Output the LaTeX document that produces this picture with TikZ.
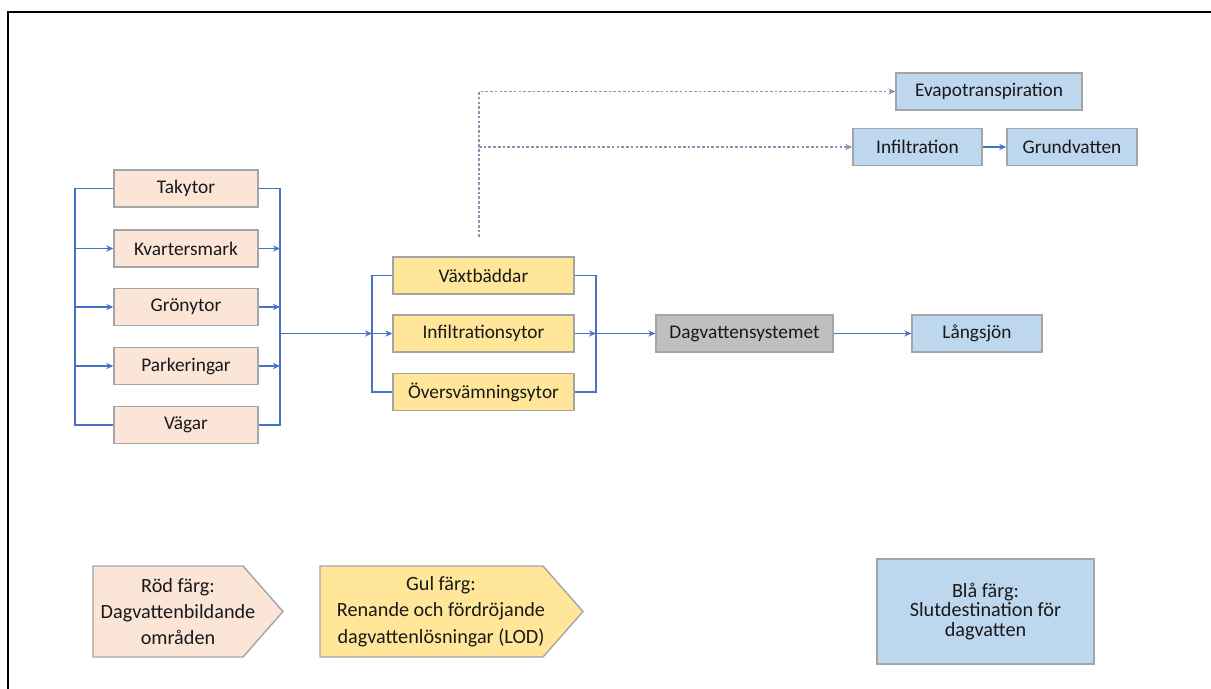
\documentclass[tikz,border=0pt]{standalone}
\usepackage{fontspec}
\setmainfont{Carlito}
\usetikzlibrary{arrows.meta}

\definecolor{redfill}{HTML}{FBE5D6}
\definecolor{ylwfill}{HTML}{FFE699}
\definecolor{bluefill}{HTML}{BDD7EE}
\definecolor{grayfill}{HTML}{BFBFBF}
\definecolor{boxedge}{HTML}{A5A5A5}
\definecolor{flowblue}{HTML}{4472C4}
\definecolor{dotblue}{HTML}{8497B0}

\tikzset{
  box/.style={draw=boxedge,line width=0.8pt,minimum height=0.74cm,inner sep=0pt,
    text=black!90,font=\fontsize{11}{12}\selectfont},
  redbox/.style={box,fill=redfill,minimum width=2.88cm},
  ylwbox/.style={box,fill=ylwfill,minimum width=3.62cm},
  bluebox/.style={box,fill=bluefill},
  graybox/.style={box,fill=grayfill},
  bus/.style={flowblue,line width=0.6pt},
  flow/.style={bus,-{Stealth[length=4pt,width=3.5pt]}},
  dotflow/.style={dotblue,line width=0.6pt,dash pattern=on 1.5pt off 1.2pt,-{Stealth[length=4pt,width=3.5pt]}},
  legtext/.style={align=center,text=black!90,font=\fontsize{11.5}{15}\selectfont}
}

\begin{document}
\begin{tikzpicture}[x=0.02cm,y=-0.02cm]
\useasboundingbox (0,0) rectangle (1211,689);
\draw[line width=1.2pt] (8,689) -- (8,12) -- (1211,12);

\node[redbox] (tak) at (186,188.5) {Takytor};
\node[redbox] (kva) at (186,248.5) {Kvartersmark};
\node[redbox] (gro) at (186,307) {Grönytor};
\node[redbox] (par) at (186,366) {Parkeringar};
\node[redbox] (vag) at (186,425) {Vägar};

\node[ylwbox] (vax) at (483.5,275.5) {Växtbäddar};
\node[ylwbox] (inf) at (483.5,333.5) {Infiltrationsytor};
\node[ylwbox] (ovs) at (483.5,392) {Översvämningsytor};

\node[graybox,minimum width=3.54cm] (dag) at (744.5,333.5) {Dagvattensystemet};
\node[bluebox,minimum width=2.6cm] (lang) at (977,333.5) {Långsjön};
\node[bluebox,minimum width=3.72cm] (evap) at (989,91.5) {Evapotranspiration};
\node[bluebox,minimum width=2.58cm] (infl) at (917.5,147) {Infiltration};
\node[bluebox,minimum width=2.6cm] (grund) at (1072,147) {Grundvatten};

\coordinate (lbus) at (75,0);
\coordinate (rbus) at (280,0);
\coordinate (ylbus) at (372,0);
\coordinate (yrbus) at (596,0);
\coordinate (dstart) at (479,237);

\draw[bus] (tak.west) -- (tak.west -| lbus) -- (vag.west -| lbus) -- (vag.west);
\draw[bus] (tak.east) -- (tak.east -| rbus) -- (vag.east -| rbus) -- (vag.east);
\foreach \n in {kva,gro,par} {
  \draw[flow] (\n.west -| lbus) -- (\n.west);
  \draw[flow] (\n.east) -- (\n.east -| rbus);
}
\draw[flow] (inf.west -| rbus) -- (inf.west -| ylbus);

\draw[bus] (vax.west) -- (vax.west -| ylbus) -- (ovs.west -| ylbus) -- (ovs.west);
\draw[bus] (vax.east) -- (vax.east -| yrbus) -- (ovs.east -| yrbus) -- (ovs.east);
\draw[flow] (inf.west -| ylbus) -- (inf.west);
\draw[flow] (inf.east) -- (inf.east -| yrbus);
\draw[flow] (inf.east -| yrbus) -- (dag.west);
\draw[flow] (dag) -- (lang);

\draw[dotflow] (dstart) |- (evap.west);
\draw[dotflow] (dstart |- infl.west) -- (infl.west);
\draw[flow] (infl) -- (grund);

\filldraw[fill=redfill,draw=boxedge,line width=0.8pt] (93,566) -- (243,566) -- (283,611.5) -- (243,657) -- (93,657) -- cycle;
\node[legtext] (legred) at (178,611.5) {Röd färg:\\Dagvattenbildande\\områden};
\filldraw[fill=ylwfill,draw=boxedge,line width=0.8pt] (320,566) -- (543,566) -- (583,611.5) -- (543,657) -- (320,657) -- cycle;
\node[legtext] (legylw) at (441,611.5) {Gul färg:\\Renande och fördröjande\\dagvattenlösningar (LOD)};
\node[bluebox,minimum width=4.34cm,minimum height=2.1cm,align=center,
  font=\fontsize{11.5}{11}\selectfont] (legblue) at (985.5,611.5) {Blå färg:\\Slutdestination för\\dagvatten};
\end{tikzpicture}
\end{document}
